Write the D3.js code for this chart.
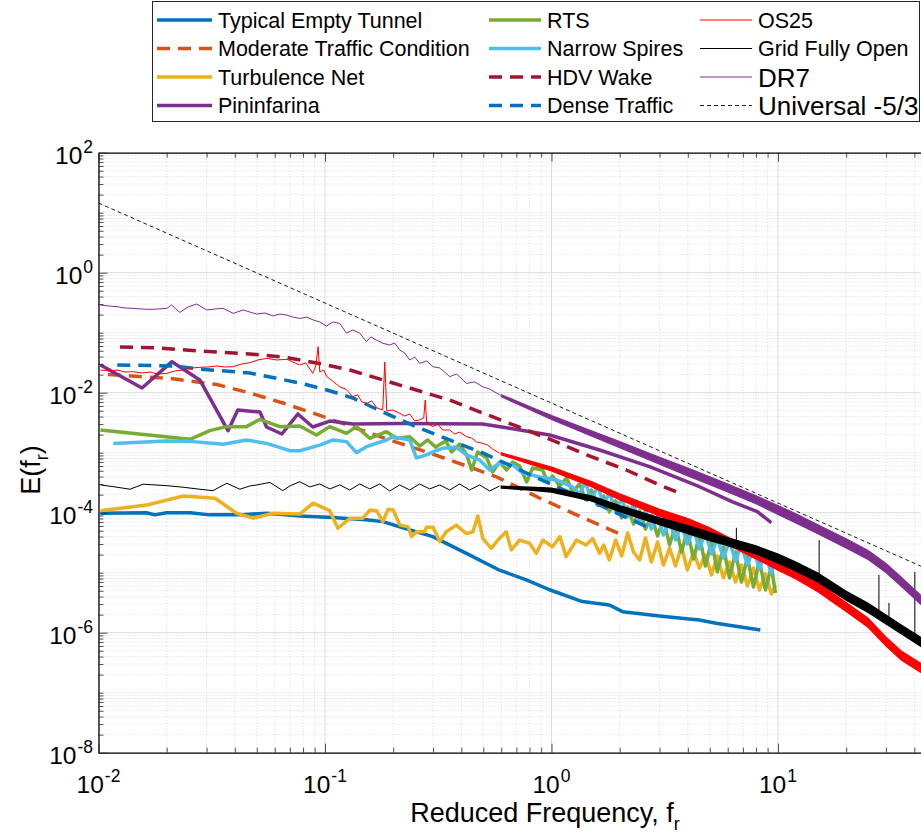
<!DOCTYPE html>
<html><head><meta charset="utf-8">
<script src="https://cdn.jsdelivr.net/npm/d3@7"></script>
<style>
body{margin:0;background:#fff}
svg{display:block}
text{font-family:"Liberation Sans",Arial,Helvetica,sans-serif;fill:#000}
</style>
</head><body>
<svg id="chart" width="921" height="836"></svg>
<script>
// ---------------- DATA ----------------
const xTickValues = [0.01, 0.1, 1, 10];
const xTickExp = ["-2", "-1", "0", "1"];
const yTickValues = [1e-8, 1e-6, 1e-4, 1e-2, 1, 100];
const yTickExp = ["-8", "-6", "-4", "-2", "0", "2"];

const tunnelF = [0.0102,0.0163,0.0177,0.02,0.0254,0.031,0.042,0.0552,0.0775,0.108,0.152,0.18,0.214,0.299,0.421,0.59,0.774,0.98,1.37,1.8,2.06,3.21,4.5,5.33,8.36];
const tunnelE = [9.8e-5,1e-4,9.2e-5,1e-4,1e-4,9.2e-5,9.2e-5,9.8e-5,8.8e-5,8.3e-5,7.6e-5,7.1e-5,5.8e-5,4e-5,2.1e-5,1.1e-5,7.6e-6,5.2e-6,3.3e-6,2.9e-6,2.24e-6,1.85e-6,1.63e-6,1.44e-6,1.11e-6];

const moderateF = [0.011,0.0207,0.0333,0.0466,0.0652,0.0883,0.1327,0.193,0.299,0.422,0.573,0.885,1.29,2.1];
const moderateE = [0.0201,0.01726,0.0137,0.00989,0.00673,0.00459,0.00268,0.00163,9.5e-4,6.0e-4,3.94e-4,1.76e-4,9.2e-5,4.1e-5];

// shared frequency grid of the saw-tooth high-frequency parts
const fTeeth = [1.33,1.41,1.50,1.60,1.70,1.80,1.92,2.04,2.17,2.30,2.45,2.60,2.76,2.94,3.12,3.32,3.53,3.75,3.98,4.24,4.50,4.78,5.09,5.40,5.74,6.11,6.49,6.90,7.33,7.79,8.28,8.80,9.35,9.74];

const turbNetF = [0.0102,0.0163,0.0237,0.0327,0.0407,0.0482,0.059,0.0775,0.0886,0.105,0.114,0.129,0.147,0.158,0.169,0.18,0.19,0.2,0.214,0.233,0.241,0.254,0.275,0.28,0.3,0.321,0.343,0.38,0.42,0.45,0.473,0.498,0.542,0.58,0.631,0.665,0.723,0.8,0.857,0.916,1.01,1.09,1.16,1.29,1.42,1.52,1.63]
  .concat(fTeeth.slice(4));
const turbNetE = [1.08e-4,1.34e-4,1.9e-4,1.74e-4,9.8e-5,8.1e-5,9.8e-5,9.5e-5,1.44e-4,1.08e-4,5.5e-5,8.1e-5,8.1e-5,1.11e-4,1.08e-4,7.1e-5,1.14e-4,1.11e-4,6.2e-5,5.8e-5,4e-5,4.8e-5,4.8e-5,5.7e-5,5.7e-5,3.3e-5,4.8e-5,6.2e-5,4.5e-5,4.8e-5,8.8e-5,3.7e-5,2.55e-5,3.5e-5,4.8e-5,2.4e-5,3.5e-5,3.1e-5,2.1e-5,3.5e-5,2.7e-5,4e-5,1.85e-5,3.5e-5,2.9e-5,3.7e-5,2.1e-5,
  2.9e-5,1.63e-5,3.51e-5,1.9e-5,4.59e-5,2.21e-5,1.63e-5,3.79e-5,1.51e-5,3.25e-5,1.34e-5,2.58e-5,1.29e-5,2.79e-5,1.11e-5,2.21e-5,1.19e-5,1.97e-5,9.2e-6,1.9e-5,8.2e-6,1.51e-5,6.99e-6,1.34e-5,6.0e-6,1.19e-5,5.15e-6,9.56e-6,4.42e-6,6.24e-6];

const pininF = [0.0102,0.01556,0.0211,0.028,0.0373,0.0412,0.0516,0.0552,0.0645,0.0759,0.0883,0.105,0.1327,0.214,0.497,0.653,0.981,1.63,2.71,4.5,6.3,8.11,9.35];
const pininE = [0.029,0.01197,0.0329,0.0163,0.00233,0.00515,0.00477,0.00268,0.00205,0.00442,0.00268,0.00337,0.0030,0.00307,0.0030,0.00255,0.00197,0.00111,5.85e-4,2.71e-4,1.52e-4,1.04e-4,6.8e-5];

const rtsF = [0.0102,0.0253,0.031,0.0368,0.045,0.0516,0.0632,0.0774,0.0917,0.105,0.1244,0.1377,0.1576,0.1867,0.2067,0.2366,0.2619,0.2841,0.3083,0.3412,0.3625,0.3932,0.4223,0.4443,0.4721,0.5172,0.5497,0.5903,0.6339,0.6736,0.7233,0.7767,0.8253,0.9135,0.9612,1.011,1.086,1.166,1.239]
  .concat(fTeeth);
const rtsE = [2.39e-3,1.67e-3,2.33e-3,2.72e-3,2.72e-3,3.6e-3,2.72e-3,2.79e-3,1.97e-3,2.72e-3,2.1e-3,2.72e-3,1.74e-3,2.24e-3,1.74e-3,1.85e-3,1.29e-3,1.63e-3,1.24e-3,1.57e-3,1.03e-3,1.39e-3,9.2e-4,5.15e-4,1.03e-3,8.2e-4,4.77e-4,6.99e-4,5.15e-4,6.99e-4,6.0e-4,3.25e-4,5.56e-4,5.15e-4,3.25e-4,4.09e-4,2.79e-4,3.79e-4,2.21e-4,
  3.01e-4,1.69e-4,2.39e-4,1.34e-4,1.9e-4,1.03e-4,1.57e-4,8.2e-5,1.24e-4,6.48e-5,1.07e-4,5.35e-5,8.85e-5,4.09e-5,7.9e-5,2.9e-5,6.24e-5,2.21e-5,5.15e-5,1.69e-5,4.25e-5,1.29e-5,3.38e-5,1.03e-5,2.69e-5,8.2e-6,2.21e-5,6.99e-6,1.82e-5,5.78e-6,1.57e-5,5.15e-6,1.29e-5,4.59e-6];

const spiresF = [0.01162,0.02,0.0262,0.0355,0.045,0.0552,0.0699,0.0774,0.0949,0.1086,0.1244,0.1377,0.1524,0.1867,0.1998,0.2366,0.2532,0.2804,0.2999,0.3319,0.3802,0.421,0.4818,0.5333,0.5903,0.6736,0.7457,0.8862,1.053,1.239]
  .concat(fTeeth);
const spiresE = [1.43e-3,1.57e-3,1.53e-3,1.38e-3,1.63e-3,1.43e-3,1.08e-3,1.08e-3,1.34e-3,1.63e-3,1.53e-3,1.0e-3,1.26e-3,1.63e-3,1.85e-3,1.63e-3,8.2e-4,9.2e-4,1.03e-3,1.19e-3,1.24e-3,9.2e-4,7.55e-4,5.15e-4,6.73e-4,6.24e-4,4.59e-4,3.94e-4,3.51e-4,2.69e-4,
  2.05e-4,3.25e-4,1.63e-4,2.79e-4,1.34e-4,2.21e-4,1.07e-4,1.76e-4,8.5e-5,1.39e-4,6.73e-5,1.11e-4,5.35e-5,8.85e-5,4.25e-5,7.55e-5,3.51e-5,6.48e-5,3.01e-5,5.35e-5,2.49e-5,4.59e-5,2.05e-5,3.79e-5,1.76e-5,3.38e-5,1.57e-5,2.9e-5,1.34e-5,2.49e-5,1.15e-5,2.13e-5,9.56e-6,1.82e-5];

const hdvF = [0.01244,0.01867,0.028,0.0466,0.0652,0.092,0.1286,0.214,0.355,0.497,0.776,1.05,1.43,2.14,3.0,3.67];
const hdvE = [0.0578,0.0556,0.0495,0.0442,0.0394,0.0313,0.0239,0.0134,0.00755,0.00459,0.00239,0.00151,9.2e-4,5.15e-4,2.9e-4,2.13e-4];

const denseF = [0.0121,0.0213,0.028,0.0466,0.0775,0.102,0.1327,0.18,0.254,0.355,0.497,0.653,1.01,1.63,2.71];
const denseE = [0.029,0.0279,0.0248,0.0213,0.0145,0.0111,0.00816,0.00477,0.00268,0.00163,9.9e-4,6.2e-4,2.9e-4,1.34e-4,5.56e-5];

const os25F = [0.0102,0.01124,0.01207,0.01309,0.01419,0.01556,0.01687,0.0183,0.02005,0.02175,0.02359,0.02585,0.02804,0.03041,0.03333,0.03614,0.0392,0.04295,0.0466,0.05053,0.05538,0.06131,0.06787,0.07211,0.07742,0.0823,0.08836,0.09109,0.09324,0.09485,0.09878,0.1018,0.1082,0.1162,0.1235,0.1327,0.1395,0.1453,0.1529,0.1608,0.1692,0.1799,0.1836,0.1874,0.1991,0.2138,0.2249,0.2366,0.2489,0.2619,0.2729,0.2771,0.2813,0.2989,0.3145,0.3308,0.3553,0.3736,0.3932,0.4223,0.4443,0.4673,0.4967,0.5225,0.5497,0.5903];
const os25E = [0.0239,0.0230,0.0239,0.0221,0.0224,0.0213,0.0221,0.0205,0.0210,0.0230,0.0239,0.0258,0.0265,0.0268,0.0279,0.0268,0.0271,0.0301,0.0316,0.0351,0.0374,0.0351,0.0361,0.0325,0.0290,0.0313,0.0210,0.0279,0.0585,0.0221,0.0239,0.0185,0.0156,0.0125,0.0115,0.0086,0.0092,0.0070,0.0066,0.0073,0.0056,0.00515,0.0325,0.00496,0.00515,0.00453,0.00409,0.00442,0.00338,0.00351,0.00379,0.00755,0.00313,0.00272,0.00301,0.00239,0.00239,0.00205,0.00221,0.00185,0.00175,0.00151,0.00143,0.00134,0.00115,9.8e-4];

const gridF = [0.0102,0.01183,0.01377,0.01572,0.01775,0.02005,0.02359,0.02804,0.032,0.03436,0.03689,0.04208,0.0466,0.05002,0.05708,0.06515,0.06995,0.07742,0.08568,0.09485,0.105,0.1162,0.1286,0.1424,0.1576,0.1745,0.1931,0.2138,0.2366,0.2619,0.2899,0.3209,0.3553,0.3932,0.4353,0.4818,0.5333,0.5903];
const gridE = [2.90e-4,2.69e-4,2.46e-4,2.98e-4,2.90e-4,2.82e-4,2.66e-4,2.46e-4,2.33e-4,2.69e-4,3.09e-4,2.46e-4,2.79e-4,2.90e-4,3.2e-4,2.33e-4,2.79e-4,3.28e-4,2.69e-4,3.01e-4,2.49e-4,2.9e-4,2.39e-4,3.01e-4,2.49e-4,3.01e-4,2.3e-4,2.9e-4,2.39e-4,3.01e-4,2.49e-4,2.9e-4,2.39e-4,3.01e-4,2.39e-4,2.9e-4,2.3e-4,2.79e-4];
const gridSpikeF = [6.55,15.2,27.9,30.9,40.2];
const gridSpikeBase = [2.9e-5,9.2e-6,1.97e-6,1.63e-6,8.5e-7];
const gridSpikeTop = [5.6e-5,3.5e-5,9.2e-6,3.13e-6,1.03e-5];

const dr7F = [0.0102,0.01101,0.01207,0.01309,0.01419,0.01556,0.01687,0.0183,0.02005,0.02103,0.02197,0.02288,0.02481,0.02712,0.03001,0.03265,0.0355,0.03931,0.04353,0.0466,0.04986,0.05425,0.05903,0.06322,0.06766,0.07211,0.07742,0.08315,0.08865,0.09485,0.1015,0.1082,0.1162,0.1244,0.1327,0.1424,0.1524,0.1593,0.1687,0.1804,0.1931,0.2031,0.2138,0.2249,0.2366,0.2489,0.2619,0.2813,0.2999,0.3209,0.3377,0.3553,0.3814,0.421,0.458,0.4983,0.5333,0.5903];
const dr7E = [0.290,0.279,0.272,0.258,0.255,0.248,0.245,0.248,0.255,0.290,0.248,0.218,0.268,0.301,0.239,0.248,0.255,0.210,0.239,0.221,0.205,0.213,0.190,0.205,0.197,0.182,0.173,0.182,0.163,0.151,0.129,0.151,0.143,0.0982,0.111,0.0982,0.0708,0.0851,0.0755,0.0665,0.0624,0.0673,0.0515,0.0459,0.0351,0.0394,0.0309,0.0338,0.0271,0.0258,0.0221,0.0185,0.0205,0.0143,0.0151,0.0125,0.0115,0.0092];

// dense noisy high-frequency parts: upper / lower envelope of the noise band
const bandF = [0.6,0.8,1,1.5,2,3,4,5,6,8,10,12,15,20,25,30,35,42.8];
const os25Upper = [9.96e-4,7.30e-4,5.78e-4,3.29e-4,2.07e-4,1.14e-4,7.97e-5,5.58e-5,3.94e-5,2.32e-5,1.56e-5,1.11e-5,6.79e-6,3.19e-6,1.74e-6,8.45e-7,4.97e-7,3.07e-7];
const os25Lower = [9.23e-4,6.51e-4,4.95e-4,2.71e-4,1.64e-4,8.74e-5,5.87e-5,4.11e-5,2.90e-5,1.70e-5,1.105e-5,7.88e-6,4.80e-6,2.26e-6,1.23e-6,5.98e-7,3.52e-7,2.17e-7];
const gridUpper = [2.77e-4,2.66e-4,2.57e-4,1.905e-4,1.31e-4,8.22e-5,6.10e-5,4.66e-5,3.82e-5,2.80e-5,2.05e-5,1.50e-5,9.89e-6,4.90e-6,3.08e-6,1.97e-6,1.35e-6,8.32e-7];
const gridLower = [2.57e-4,2.37e-4,2.20e-4,1.57e-4,1.04e-4,6.29e-5,4.48e-5,3.43e-5,2.81e-5,2.06e-5,1.45e-5,1.06e-5,7.0e-6,3.47e-6,2.18e-6,1.40e-6,9.59e-7,5.89e-7];
const dr7Upper = [9.26e-3,5.89e-3,4.17e-3,2.31e-3,1.53e-3,8.41e-4,5.56e-4,3.97e-4,3.01e-4,1.91e-4,1.32e-4,9.55e-5,6.29e-5,3.66e-5,2.34e-5,1.43e-5,8.41e-6,4.17e-6];
const dr7Lower = [8.58e-3,5.25e-3,3.58e-3,1.905e-3,1.21e-3,6.43e-4,4.09e-4,2.92e-4,2.21e-4,1.41e-4,9.33e-5,6.76e-5,4.45e-5,2.59e-5,1.66e-5,1.01e-5,5.96e-6,2.95e-6];

const universalF = [0.01, 50];
const universalE = [14.5, 9.9e-6];

// ---------------- CHART ----------------
const svg = d3.select("#chart");
const L = 98.5, R = 921, T = 152.7, B = 752.7;
const x = d3.scaleLog().domain([0.01, 42.8]).range([L, R]);
const y = d3.scaleLog().domain([1e-8, 100]).range([B, T]);
const axisColor = "#262626";

svg.append("defs").append("clipPath").attr("id","clip")
  .append("rect").attr("x",L).attr("y",T).attr("width",R-L).attr("height",B-T);

// grid
const gGrid = svg.append("g");
const xMinor = [], xMajor = [];
for (let e=-2; e<=1; e++) for (let k=1;k<=9;k++){ const v=k*Math.pow(10,e); if (v<=42.8){ (k===1?xMajor:xMinor).push(v);} }
const yMinor = [], yMajor = [];
for (let e=-8; e<=1; e++) for (let k=1;k<=9;k++){ const v=k*Math.pow(10,e); if (k===1 && e%2===0) yMajor.push(v); else yMinor.push(v);} 
yMajor.push(100);
gGrid.selectAll(".xm").data(xMinor).join("line")
  .attr("x1",d=>x(d)).attr("x2",d=>x(d)).attr("y1",T).attr("y2",B)
  .attr("stroke","#d0d0d0").attr("stroke-width",0.8).attr("stroke-dasharray","1,2");
gGrid.selectAll(".ym").data(yMinor).join("line")
  .attr("x1",L).attr("x2",R).attr("y1",d=>y(d)).attr("y2",d=>y(d))
  .attr("stroke","#d0d0d0").attr("stroke-width",0.8).attr("stroke-dasharray","1,2");
gGrid.selectAll(".xM").data(xMajor).join("line")
  .attr("x1",d=>x(d)).attr("x2",d=>x(d)).attr("y1",T).attr("y2",B)
  .attr("stroke","#dcdcdc").attr("stroke-width",1);
gGrid.selectAll(".yM").data(yMajor).join("line")
  .attr("x1",L).attr("x2",R).attr("y1",d=>y(d)).attr("y2",d=>y(d))
  .attr("stroke","#dcdcdc").attr("stroke-width",1);

// series
const plot = svg.append("g").attr("clip-path","url(#clip)");
const zip = (f,e)=>f.map((v,i)=>[v,e[i]]);
const line = d3.line().x(d=>x(d[0])).y(d=>y(d[1]));
const area = d3.area().x(d=>x(d[0])).y0(d=>y(d[1])).y1(d=>y(d[2]));
const thickDash = "13,8";

const series = [
  {name:"Typical Empty Tunnel", f:tunnelF, e:tunnelE, color:"#0072BD", w:3.5, dash:null},
  {name:"Moderate Traffic Condition", f:moderateF, e:moderateE, color:"#D95319", w:3.5, dash:thickDash},
  {name:"Turbulence Net", f:turbNetF, e:turbNetE, color:"#EDB120", w:3.5, dash:null},
  {name:"Pininfarina", f:pininF, e:pininE, color:"#7E2F8E", w:3.5, dash:null},
  {name:"RTS", f:rtsF, e:rtsE, color:"#77AC30", w:3.5, dash:null},
  {name:"Narrow Spires", f:spiresF, e:spiresE, color:"#4DBEEE", w:3.5, dash:null},
  {name:"HDV Wake", f:hdvF, e:hdvE, color:"#A2142F", w:3.5, dash:thickDash},
  {name:"Dense Traffic", f:denseF, e:denseE, color:"#0072BD", w:3.5, dash:thickDash},
  {name:"OS25", f:os25F, e:os25E, color:"#FF0000", w:1, dash:null, up:os25Upper, lo:os25Lower},
  {name:"Grid Fully Open", f:gridF, e:gridE, color:"#000000", w:1, dash:null, up:gridUpper, lo:gridLower},
  {name:"DR7", f:dr7F, e:dr7E, color:"#7E2F8E", w:1, dash:null, up:dr7Upper, lo:dr7Lower, big:true},
  {name:"Universal -5/3", f:universalF, e:universalE, color:"#000000", w:0.9, dash:"4,3", big:true}
];

series.forEach(s=>{
  if (s.up){
    plot.append("path").datum(bandF.map((v,i)=>[v,s.lo[i],s.up[i]]))
      .attr("d",area).attr("fill",s.color).attr("stroke",s.color).attr("stroke-width",1.2);
  }
  plot.append("path").datum(zip(s.f,s.e)).attr("d",line)
    .attr("fill","none").attr("stroke",s.color).attr("stroke-width",s.w)
    .attr("stroke-linejoin","round")
    .attr("stroke-dasharray",s.dash);
  if (s.name==="Grid Fully Open"){
    plot.selectAll(".spike").data(gridSpikeF.map((v,i)=>[v,gridSpikeBase[i],gridSpikeTop[i]])).join("line")
      .attr("x1",d=>x(d[0])).attr("x2",d=>x(d[0])).attr("y1",d=>y(d[1])).attr("y2",d=>y(d[2]))
      .attr("stroke","#000").attr("stroke-width",1);
  }
});

// axes (ticks inward)
const gAx = svg.append("g").attr("color",axisColor);
gAx.append("g").attr("transform",`translate(${L},0)`)
  .call(d3.axisLeft(y).tickValues(yMinor).tickSize(-5).tickSizeOuter(0).tickFormat(""));
gAx.append("g").attr("transform",`translate(${L},0)`)
  .call(d3.axisLeft(y).tickValues(yMajor).tickSize(-9).tickSizeOuter(0).tickFormat(""));
gAx.append("g").attr("transform",`translate(0,${B})`)
  .call(d3.axisBottom(x).tickValues(xMinor).tickSize(-5).tickSizeOuter(0).tickFormat(""));
gAx.append("g").attr("transform",`translate(0,${B})`)
  .call(d3.axisBottom(x).tickValues(xMajor).tickSize(-9).tickSizeOuter(0).tickFormat(""));
gAx.append("g").attr("transform",`translate(0,${T})`)
  .call(d3.axisTop(x).tickValues(xMinor).tickSize(-5).tickSizeOuter(0).tickFormat(""));
gAx.append("g").attr("transform",`translate(0,${T})`)
  .call(d3.axisTop(x).tickValues(xMajor).tickSize(-9).tickSizeOuter(0).tickFormat(""));
gAx.selectAll("path.domain").attr("stroke",axisColor).attr("stroke-width",1);
gAx.selectAll(".tick line").attr("stroke",axisColor).attr("stroke-width",0.8);

// tick labels with superscripts
function powLabel(g, exp){
  g.append("tspan").text("10");
  g.append("tspan").attr("dy",-11).attr("dx",1).attr("font-size",17.5).text(exp);
}
yTickValues.forEach((v,i)=>{
  const t = svg.append("text").attr("x",93).attr("y",y(v)+11)
    .attr("text-anchor","end").attr("font-size",24.5).attr("fill","#262626");
  powLabel(t, yTickExp[i]);
});
xTickValues.forEach((v,i)=>{
  const t = svg.append("text").attr("x",x(v)).attr("y",793)
    .attr("text-anchor","middle").attr("font-size",24.5).attr("fill","#262626");
  powLabel(t, xTickExp[i]);
});

// axis titles
const xl = svg.append("text").attr("x",545).attr("y",822).attr("text-anchor","middle").attr("font-size",27).attr("fill","#262626");
xl.append("tspan").text("Reduced Frequency, f");
xl.append("tspan").attr("dy",8).attr("font-size",18).text("r");
const yl = svg.append("text").attr("transform","translate(40,470) rotate(-90)").attr("text-anchor","middle").attr("font-size",27).attr("fill","#262626");
yl.append("tspan").text("E(f");
yl.append("tspan").attr("dy",8).attr("font-size",18).text("r");
yl.append("tspan").attr("dy",-8).text(")");

// legend
const lg = svg.append("g");
lg.append("rect").attr("x",152.5).attr("y",1.5).attr("width",767).attr("height",120)
  .attr("fill","#fff").attr("stroke","#262626").attr("stroke-width",1);
const colX = [157, 489, 700];
const colLen = [55, 52, 52];
const rowY = [20, 48.5, 77, 105.5];
series.forEach((s,i)=>{
  const c = Math.floor(i/4), r = i%4;
  const x1 = colX[c], x2 = colX[c]+colLen[c], yy = rowY[r];
  lg.append("line").attr("x1",x1).attr("x2",x2).attr("y1",yy).attr("y2",yy)
    .attr("stroke",s.color).attr("stroke-width",s.w).attr("stroke-dasharray",s.dash);
  lg.append("text").attr("x",x2+6).attr("y",yy+(s.big?9.5:7.5))
    .attr("font-size",s.big?26:21.5).text(s.name);
});
</script>
</body></html>
